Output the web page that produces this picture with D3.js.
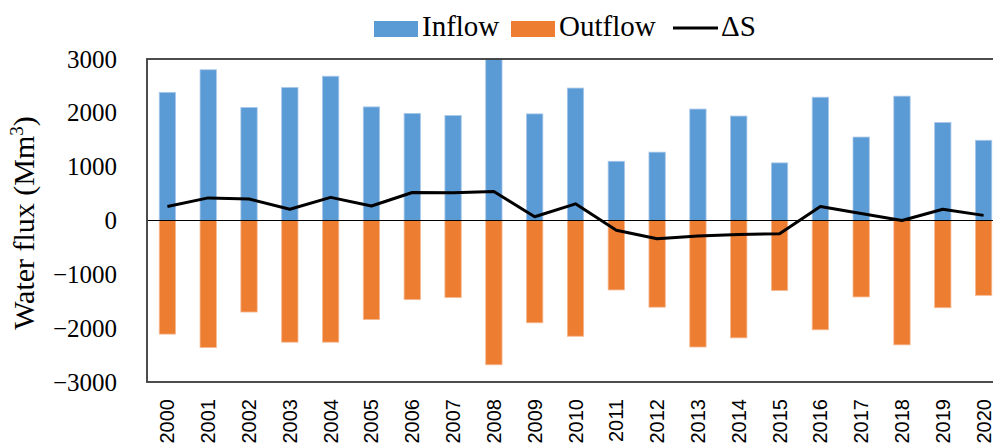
<!DOCTYPE html>
<html>
<head>
<meta charset="utf-8">
<script src="https://cdn.jsdelivr.net/npm/d3@7"></script>
<style>
  body { margin: 0; background: #fff; }
  svg { display: block; }
</style>
</head>
<body>
<svg id="chart"></svg>
<script>

// values (Mm3)
var years = ['2000','2001','2002','2003','2004','2005','2006','2007','2008','2009','2010',
             '2011','2012','2013','2014','2015','2016','2017','2018','2019','2020']
var inflow = [2380, 2800, 2100, 2470, 2680, 2110, 1990, 1950, 3000, 1980, 2460,
              1100, 1270, 2070, 1940, 1070, 2290, 1550, 2310, 1820, 1490]
var outflow = [-2110, -2360, -1700, -2260, -2260, -1840, -1470, -1430, -2680, -1900, -2150,
               -1290, -1610, -2350, -2180, -1300, -2030, -1420, -2310, -1620, -1390]
var deltaS = [260, 420, 400, 210, 430, 270, 520, 515, 540, 70, 310,
              -180, -340, -290, -260, -245, 260, 130, 0, 210, 95]
var yTicks = [-3000, -2000, -1000, 0, 1000, 2000, 3000]

var width = 993,
    height = 443

// plot box (runs a little past the right edge of the picture)
var plotLeft = 147, plotTop = 59, plotBottom = 382, plotRight = 1004

var svg = d3.select('#chart')
            .attr('width', width)
            .attr('height', height)

var x = d3.scaleBand()
    .domain(years)
    .range([plotLeft, plotRight])
    .paddingInner(0.6)
    .paddingOuter(0.3)

var y = d3.scaleLinear()
    .domain([-3000, 3000])
    .range([plotBottom, plotTop])

var serif = '"Liberation Serif", "DejaVu Serif", serif'

// bars
svg.append('g').selectAll('rect')
    .data(years)
    .enter()
    .append('rect')
    .attr('x', (d) => x(d))
    .attr('width', x.bandwidth())
    .attr('y', (d, i) => y(inflow[i]))
    .attr('height', (d, i) => y(0) - y(inflow[i]))
    .attr('fill', '#5b9bd5')
    .attr('stroke', '#a9c8ea')
    .attr('stroke-width', 0.8)

svg.append('g').selectAll('rect')
    .data(years)
    .enter()
    .append('rect')
    .attr('x', (d) => x(d))
    .attr('width', x.bandwidth())
    .attr('y', y(0))
    .attr('height', (d, i) => y(outflow[i]) - y(0))
    .attr('fill', '#ed7d31')
    .attr('stroke', '#f6b891')
    .attr('stroke-width', 0.8)

// zero line
svg.append('line')
    .attr('x1', plotLeft).attr('x2', plotRight)
    .attr('y1', y(0)).attr('y2', y(0))
    .attr('stroke', '#000')
    .attr('stroke-width', 1.2)

// frame
svg.append('rect')
    .attr('x', plotLeft).attr('y', plotTop)
    .attr('width', plotRight - plotLeft).attr('height', plotBottom - plotTop)
    .attr('fill', 'none')
    .attr('stroke', '#3a3a3a')
    .attr('stroke-width', 1.8)

// delta S line
var line = d3.line()
    .x((d, i) => x(years[i]) + x.bandwidth() / 2)
    .y((d) => y(d))

svg.append('path')
    .datum(deltaS)
    .attr('d', line)
    .attr('fill', 'none')
    .attr('stroke', '#000')
    .attr('stroke-width', 3)
    .attr('stroke-linejoin', 'round')

// y axis labels
var yAxis = d3.axisLeft(y)
    .tickValues(yTicks)
    .tickSize(0)
    .tickPadding(30)
    .tickFormat((d) => d < 0 ? '\u2212' + Math.abs(d) : d)

var gy = svg.append('g')
    .attr('transform', `translate(${plotLeft},0)`)
    .call(yAxis)
gy.select('.domain').remove()
gy.selectAll('text')
    .style('font-family', serif)
    .style('font-size', '25px')
    .attr('fill', '#000')

// x axis labels, rotated
var xAxis = d3.axisBottom(x).tickSize(0).tickPadding(0)
var gx = svg.append('g')
    .attr('transform', `translate(0,${plotBottom})`)
    .call(xAxis)
gx.select('.domain').remove()
gx.selectAll('text')
    .attr('transform', 'rotate(-90)')
    .attr('x', -17)
    .attr('y', 0)
    .attr('dy', '0.35em')
    .attr('text-anchor', 'end')
    .style('font-family', '"Liberation Sans", Arial, sans-serif')
    .style('font-size', '20px')
    .attr('fill', '#000')

// y title
svg.append('text')
    .attr('transform', `translate(34,223) rotate(-90)`)
    .attr('text-anchor', 'middle')
    .style('font-family', serif)
    .style('font-size', '30px')
    .html('Water flux (Mm<tspan dy="-11" font-size="19px">3</tspan><tspan dy="11">)</tspan>')

// legend
var legend = svg.append('g').style('font-family', serif).style('font-size', '29px')

legend.append('rect').attr('x', 374).attr('y', 21).attr('width', 44).attr('height', 16).attr('fill', '#5b9bd5')
legend.append('text').attr('x', 422).attr('y', 36).text('Inflow')
legend.append('rect').attr('x', 511).attr('y', 21).attr('width', 44).attr('height', 16).attr('fill', '#ed7d31')
legend.append('text').attr('x', 559).attr('y', 36).text('Outflow')
legend.append('line').attr('x1', 673).attr('x2', 718).attr('y1', 28).attr('y2', 28)
    .attr('stroke', '#000').attr('stroke-width', 3)
legend.append('text').attr('x', 721).attr('y', 36).text('\u0394S')

</script>
</body>
</html>
